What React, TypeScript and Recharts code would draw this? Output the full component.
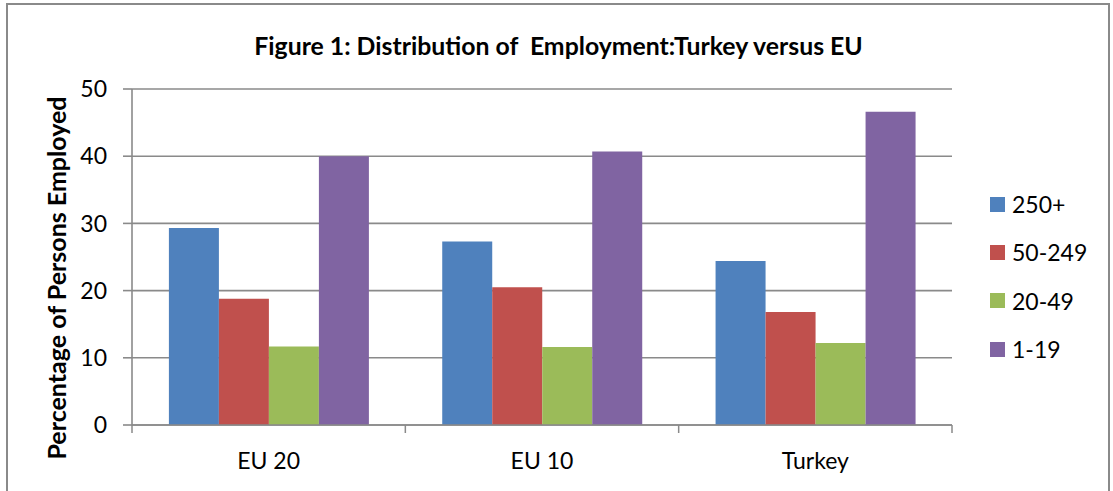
import React from 'react';
import { BarChart, Bar, XAxis, YAxis, CartesianGrid } from 'recharts';

const categories = ['EU 20', 'EU 10', 'Turkey'];
const seriesNames = ['250+', '50-249', '20-49', '1-19'];
const values250 = [29.3, 27.3, 24.4];
const values50 = [18.8, 20.5, 16.8];
const values20 = [11.7, 11.6, 12.2];
const values1 = [40.0, 40.7, 46.6];
const yTicks = [0, 10, 20, 30, 40, 50];
const colors = ['#4F81BD', '#C0504D', '#9BBB59', '#8064A2'];

const title = 'Figure 1: Distribution of  Employment:Turkey versus EU';
const yTitle = 'Percentage of Persons Employed';

const allValues = [values250, values50, values20, values1];

const data = categories.map((name, i) => {
  const row: Record<string, string | number> = { name };
  seriesNames.forEach((s, j) => {
    row[s] = allValues[j][i];
  });
  return row;
});

const W = 1113;
const H = 491;
const margin = { top: 89, right: 161, bottom: 26, left: 72 };
const plotW = W - margin.left - margin.right;
const font = 'Lato, "Open Sans", sans-serif';
const gray = '#8a8a8a';

const CategoryTick = (props: any) => {
  const { x, y, payload, index } = props;
  const half = payload && payload.offset ? payload.offset : plotW / categories.length / 2;
  return (
    <g>
      <line x1={x - half} x2={x - half} y1={y} y2={y + 8} stroke={gray} strokeWidth={1.5} />
      {index === categories.length - 1 && (
        <line x1={x + half} x2={x + half} y1={y} y2={y + 8} stroke={gray} strokeWidth={1.5} />
      )}
      <text x={x} y={y + 35} textAnchor="middle" dominantBaseline="central" fontFamily={font} fontSize={23} fill="#000">
        {payload.value}
      </text>
    </g>
  );
};

export default function App() {
  return (
    <div style={{ position: 'absolute', left: 0, top: 0, width: W, height: H, overflow: 'hidden', background: '#fff' }}>
      <div style={{ position: 'absolute', left: 0, top: 0 }}>
        <BarChart width={W} height={H} data={data} margin={margin} barCategoryGap="13.5%" barGap={0}>
          <CartesianGrid vertical={false} stroke={gray} strokeWidth={1.6} />
          <XAxis
            dataKey="name"
            height={40}
            axisLine={{ stroke: gray, strokeWidth: 1.6 }}
            tickLine={false}
            tickSize={0}
            tickMargin={0}
            tick={<CategoryTick />}
            interval={0}
          />
          <YAxis
            width={60}
            domain={[0, 50]}
            ticks={yTicks}
            interval={0}
            axisLine={{ stroke: gray, strokeWidth: 1.6 }}
            tickLine={{ stroke: gray, strokeWidth: 1.6 }}
            tickSize={9}
            tickMargin={16}
            tick={{ fontFamily: font, fontSize: 23, fill: '#000' }}
          />
          {seriesNames.map((s, i) => (
            <Bar key={s} dataKey={s} fill={colors[i]} isAnimationActive={false} />
          ))}
        </BarChart>
      </div>
      <div
        style={{
          position: 'absolute',
          left: 2,
          width: W,
          top: 45,
          transform: 'translateY(-50%)',
          textAlign: 'center',
          fontFamily: font,
          fontWeight: 700,
          fontSize: 24.8,
          color: '#000',
          whiteSpace: 'pre',
        }}
      >
        {title}
      </div>
      <div
        style={{
          position: 'absolute',
          left: 56,
          top: 278,
          transform: 'translate(-50%, -50%) rotate(-90deg)',
          fontFamily: font,
          fontWeight: 700,
          fontSize: 25,
          color: '#000',
          whiteSpace: 'nowrap',
        }}
      >
        {yTitle}
      </div>
      <div style={{ position: 'absolute', left: 990, top: 180, fontFamily: font, fontSize: 23, color: '#000' }}>
        {seriesNames.map((s, i) => (
          <div key={s} style={{ height: 48.3, display: 'flex', alignItems: 'center' }}>
            <span style={{ width: 15, height: 15, background: colors[i], display: 'inline-block', marginRight: 7 }} />
            <span>{s}</span>
          </div>
        ))}
      </div>
      <div
        style={{
          position: 'absolute',
          left: 6,
          top: 3,
          width: 1104,
          height: 520,
          boxSizing: 'border-box',
          border: `2px solid ${gray}`,
          pointerEvents: 'none',
        }}
      />
    </div>
  );
}
